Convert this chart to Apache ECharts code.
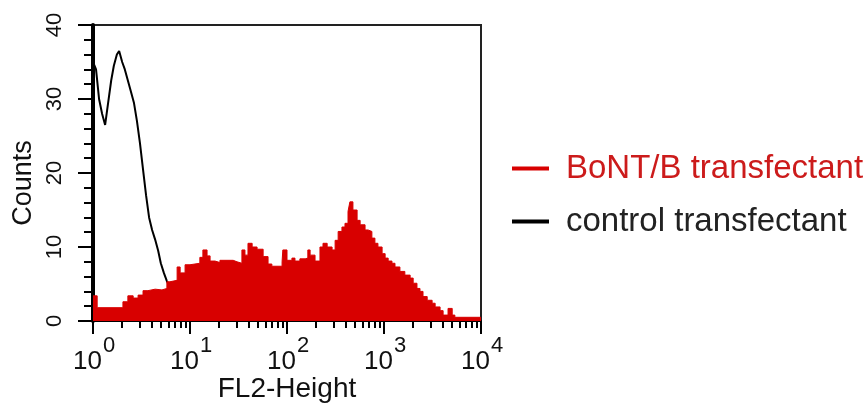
<!DOCTYPE html>
<html><head><meta charset="utf-8">
<script src="https://cdn.jsdelivr.net/npm/echarts@6/dist/echarts.min.js"></script>
<style>html,body{margin:0;padding:0;background:#fff}#c{width:865px;height:405px}</style>
</head><body><div id="c"></div>
<script>
const seriesNames = ['BoNT/B transfectant', 'control transfectant'];
// FL2 channel (0-1024 spanning 4 log decades) at each bin's left edge, and counts
const bontChannels = [0, 11, 79, 92, 106, 119, 132, 145, 164, 182, 195, 203, 222, 230, 243, 256, 282, 290, 301, 309, 322, 335, 370, 380, 393, 401, 409, 420, 433, 449, 462, 472, 499, 501, 512, 525, 533, 546, 560, 567, 573, 586, 599, 607, 618, 631, 639, 647, 657, 665, 673, 678, 686, 697, 705, 718, 726, 736, 744, 752, 763, 771, 779, 789, 797, 810, 823, 837, 845, 855, 863, 871, 882, 895, 903, 916, 924, 937, 948, 955, 1024];
const bontCounts   = [3.4, 1.8, 2.6, 3.4, 3.1, 3.5, 4.1, 4.3, 4.2, 4.4, 5.3, 5.5, 7.3, 6.5, 7.6, 7.8, 8.6, 9.6, 8.8, 8.1, 7.9, 8.2, 8.0, 7.8, 9.6, 8.9, 10.5, 10.0, 9.7, 8.7, 7.7, 7.4, 8.0, 9.6, 8.2, 8.5, 8.1, 8.4, 8.5, 9.6, 8.9, 8.1, 10.0, 10.5, 10.0, 9.6, 10.9, 12.1, 12.7, 13.2, 14.8, 16.1, 15.0, 13.6, 13.0, 12.3, 12.1, 11.2, 10.5, 10.0, 9.1, 8.5, 8.1, 7.8, 7.3, 6.7, 6.2, 5.8, 5.1, 4.4, 4.0, 3.3, 2.8, 2.4, 1.9, 1.4, 0.8, 1.7, 0.8, 0.5, 0.5];
const controlChannels = [0, 8, 16, 24, 32, 40, 48, 55, 63, 69, 77, 84, 92, 100, 108, 116, 124, 132, 140, 148, 156, 164, 172, 179, 187, 195, 203, 216, 230, 256, 282, 322];
const controlCounts   = [35, 34, 30, 28, 26.5, 29.5, 32.5, 34.5, 36, 36.5, 35, 34, 32.5, 31, 29.5, 27, 24, 20.5, 17, 14, 12.3, 11, 9.5, 7.8, 6.5, 5.4, 4.5, 3.5, 2.5, 1.5, 0.8, 0.3];
const xMajorTicks = [1, 10, 100, 1000, 10000];
const xExponents = ['0', '1', '2', '3', '4'];
const xMinorTicks = [2, 3, 4, 5, 6, 7, 8, 9, 20, 30, 40, 50, 60, 70, 80, 90, 200, 300, 400, 500, 600, 700, 800, 900, 2000, 3000, 4000, 5000, 6000, 7000, 8000, 9000];
const yTicks = [0, 10, 20, 30, 40];

const FONT = '"Liberation Sans", Arial, Helvetica, sans-serif';
const chToFL2 = c => Math.pow(10, c / 256);
const bontData = bontChannels.map((c, i) => [chToFL2(c), bontCounts[i]]);
const controlData = controlChannels.map((c, i) => [chToFL2(c), controlCounts[i]]);
const expOf = v => { const i = xMajorTicks.indexOf(Math.round(v)); return i >= 0 ? xExponents[i] : ''; };

const chart = echarts.init(document.getElementById('c'), null, {renderer: 'canvas'});
chart.setOption({
  animation: false,
  backgroundColor: '#fff',
  textStyle: {fontFamily: FONT},
  grid: {left: 93, right: 384, top: 25, bottom: 84, show: true, borderColor: '#222', borderWidth: 2, outerBoundsMode: 'none', containLabel: false},
  legend: {
    orient: 'vertical', left: 512, top: 152, padding: 0, itemWidth: 37, itemHeight: 4, itemGap: 20, icon: 'rect',
    textStyle: {fontSize: 33, fontFamily: FONT, padding: [0, 0, 0, 12]},
    data: [
      {name: seriesNames[0], textStyle: {color: '#cc1b1b'}},
      {name: seriesNames[1], textStyle: {color: '#222'}}
    ]
  },
  xAxis: [{
    type: 'log', logBase: 10, min: xMajorTicks[0], max: xMajorTicks[xMajorTicks.length - 1],
    position: 'bottom', name: 'FL2-Height', nameLocation: 'middle', nameGap: 54, nameMoveOverlap: false,
    nameTextStyle: {fontSize: 28, color: '#111', fontFamily: FONT},
    axisLine: {show: true, onZero: false, lineStyle: {color: '#000', width: 2}},
    axisTick: {show: true, inside: false, length: 13, lineStyle: {color: '#000', width: 2}, customValues: xMajorTicks},
    splitLine: {show: false},
    axisLabel: {
      show: true, margin: 28, customValues: xMajorTicks, hideOverlap: false,
      formatter: () => '{b|10}{g| }',
      rich: {
        b: {fontSize: 26, color: '#111', fontFamily: FONT},
        g: {fontSize: 26, width: 11}
      }
    }
  }, {
    type: 'log', logBase: 10, min: xMajorTicks[0], max: xMajorTicks[xMajorTicks.length - 1],
    position: 'bottom', axisLine: {show: false, onZero: false},
    axisTick: {show: true, inside: false, length: 7, lineStyle: {color: '#000', width: 2}, customValues: xMinorTicks},
    splitLine: {show: false},
    axisLabel: {
      show: true, margin: 14, customValues: xMajorTicks, hideOverlap: false, align: 'left',
      padding: [0, 0, 0, 10], fontSize: 22, color: '#111', fontFamily: FONT,
      formatter: v => expOf(v)
    }
  }],
  yAxis: {
    type: 'value', min: yTicks[0], max: yTicks[yTicks.length - 1], interval: 10,
    name: 'Counts', nameLocation: 'middle', nameRotate: 90, nameGap: 56, nameMoveOverlap: false,
    nameTextStyle: {fontSize: 27, color: '#111', fontFamily: FONT, padding: [0, 20, 0, 0]},
    axisLine: {show: true, lineStyle: {color: '#000', width: 4}},
    axisTick: {show: true, inside: false, length: 15, lineStyle: {color: '#000', width: 2}},
    minorTick: {show: true, splitNumber: 5, length: 9, lineStyle: {color: '#000', width: 2}},
    splitLine: {show: false},
    axisLabel: {rotate: 90, margin: 27, fontSize: 22, color: '#111', fontFamily: FONT}
  },
  series: [
    {
      name: seriesNames[1], type: 'line', xAxisIndex: 0, data: controlData, symbol: 'none',
      lineStyle: {color: '#000', width: 2}, itemStyle: {color: '#000'}, z: 2
    },
    {
      name: seriesNames[0], type: 'line', xAxisIndex: 0, data: bontData, step: 'end', symbol: 'none',
      lineStyle: {color: '#d80000', width: 1}, itemStyle: {color: '#d80000'},
      areaStyle: {color: '#d80000', opacity: 1}, z: 3
    }
  ]
});
</script>
</body></html>
